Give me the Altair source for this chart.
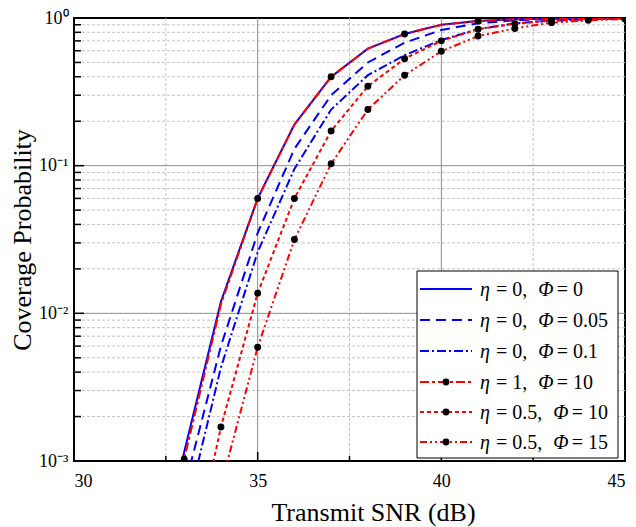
import altair as alt
import pandas as pd

# ---------------- data ----------------
snr_db = [32, 33, 34, 35, 36, 37, 38, 39, 40, 41, 42, 43, 44, 45]

pc_eta0_phi0 = [1.0e-4, 1.15e-3, 0.012, 0.060, 0.19, 0.40, 0.62, 0.78, 0.90, 0.955, 0.98, 0.99, 0.995, 0.998]
pc_eta0_phi005 = [5.0e-5, 6.5e-4, 0.0060, 0.035, 0.13, 0.30, 0.50, 0.68, 0.83, 0.92, 0.965, 0.985, 0.993, 0.997]
pc_eta0_phi01 = [2.0e-5, 4.0e-4, 0.0043, 0.026, 0.095, 0.24, 0.41, 0.56, 0.71, 0.84, 0.92, 0.96, 0.98, 0.993]
pc_eta1_phi10 = [1.0e-4, 1.03e-3, 0.0115, 0.060, 0.19, 0.40, 0.62, 0.78, 0.90, 0.955, 0.98, 0.99, 0.995, 0.998]
pc_eta05_phi10 = [1.0e-5, 1.2e-4, 0.0017, 0.0137, 0.060, 0.172, 0.345, 0.53, 0.70, 0.84, 0.915, 0.96, 0.98, 0.99]
pc_eta05_phi15 = [1.0e-6, 1.0e-5, 6.8e-4, 0.0059, 0.0316, 0.103, 0.24, 0.41, 0.595, 0.755, 0.85, 0.93, 0.965, 0.985]

marker_snr_eta1_phi10 = [33, 35, 37, 39, 41, 43, 45]
marker_snr_eta05_phi10 = [34, 35, 36, 37, 38, 39, 40, 41, 42, 43, 44, 45]
marker_snr_eta05_phi15 = [35, 36, 37, 38, 39, 40, 41, 42, 43, 44, 45]

# legend labels: eta value and Phi value of each curve
legend_eta = ["0", "0", "0", "1", "0.5", "0.5"]
legend_phi = ["0", "0.05", "0.1", "10", "10", "15"]

series_values = [pc_eta0_phi0, pc_eta0_phi005, pc_eta0_phi01,
                 pc_eta1_phi10, pc_eta05_phi10, pc_eta05_phi15]
series_markers = [[], [], [], marker_snr_eta1_phi10, marker_snr_eta05_phi10, marker_snr_eta05_phi15]

x_major = [30, 35, 40, 45]
x_minor = [32.5, 37.5, 42.5]
y_major = [0.001, 0.01, 0.1, 1.0]
y_minor = [0.002, 0.003, 0.004, 0.005, 0.006, 0.007, 0.008, 0.009,
           0.02, 0.03, 0.04, 0.05, 0.06, 0.07, 0.08, 0.09,
           0.2, 0.3, 0.4, 0.5, 0.6, 0.7, 0.8, 0.9]

# ---------------- styles ----------------
series_colors = ["#0000FF", "#0000FF", "#0000FF", "#FF0000", "#FF0000", "#FF0000"]
series_dashes = [[1, 0], [10, 6], [9, 3, 2, 3], [9, 3, 3, 3], [4, 3], [7, 3, 2, 3, 2, 3]]

W, H = 551, 443
TOP = 18  # page y of the plot's top edge
FONT = "Liberation Serif"

xs = alt.Scale(domain=[30, 45], nice=False, zero=False)
ys = alt.Scale(type="log", domain=[0.001, 1], nice=False)

xaxis = alt.Axis(values=x_major, title="Transmit SNR (dB)", grid=False, ticks=False,
                 tickSize=0, domain=False, labelPadding=11, format="d",
                 labelFontSize=18, titleFontSize=26, labelFont=FONT, titleFont=FONT,
                 labelColor="black", titleColor="black", titleFontWeight="normal",
                 titleX=299, titleY=59, titleBaseline="alphabetic")
yaxis = alt.Axis(values=y_major, title="Coverage Probability", grid=False, ticks=False,
                 tickSize=0, domain=False, labelPadding=6,
                 labelFontSize=18, titleFontSize=26, labelFont=FONT, titleFont=FONT,
                 labelColor="black", titleColor="black", titleFontWeight="normal",
                 titleX=-52, titleY=H / 2, titleBaseline="middle",
                 labelExpr="datum.value > 0.5 ? '10⁰' : datum.value > 0.05 ? '10⁻¹' : datum.value > 0.005 ? '10⁻²' : '10⁻³'")


def X(field):
    return alt.X(f"{field}:Q", scale=xs, axis=xaxis)


def Y(field):
    return alt.Y(f"{field}:Q", scale=ys, axis=yaxis)


layers = []

# grid
layers.append(alt.Chart(pd.DataFrame({"snr": x_minor})).mark_rule(
    color="#c4c4c4", strokeWidth=1, strokeDash=[3, 2]).encode(x=X("snr")))
layers.append(alt.Chart(pd.DataFrame({"pc": y_minor})).mark_rule(
    color="#c4c4c4", strokeWidth=1, strokeDash=[3, 2]).encode(y=Y("pc")))
layers.append(alt.Chart(pd.DataFrame({"snr": x_major[1:-1]})).mark_rule(
    color="#8c8c8c", strokeWidth=1).encode(x=X("snr")))
layers.append(alt.Chart(pd.DataFrame({"pc": y_major[1:-1]})).mark_rule(
    color="#8c8c8c", strokeWidth=1).encode(y=Y("pc")))

# inward ticks
layers.append(alt.Chart(pd.DataFrame({"snr": x_major})).mark_rule(color="black", strokeWidth=1.5).encode(
    x=X("snr"), y=alt.value(H), y2=alt.value(H - 9)))
layers.append(alt.Chart(pd.DataFrame({"snr": x_minor})).mark_rule(color="black", strokeWidth=1.5).encode(
    x=X("snr"), y=alt.value(H), y2=alt.value(H - 5)))
layers.append(alt.Chart(pd.DataFrame({"pc": y_major})).mark_rule(color="black", strokeWidth=1.5).encode(
    y=Y("pc"), x=alt.value(0), x2=alt.value(10)))
layers.append(alt.Chart(pd.DataFrame({"pc": y_minor})).mark_rule(color="black", strokeWidth=1.5).encode(
    y=Y("pc"), x=alt.value(0), x2=alt.value(7)))

# curves
for vals, col, dash in zip(series_values, series_colors, series_dashes):
    df = pd.DataFrame({"snr": snr_db, "pc": vals})
    layers.append(alt.Chart(df).mark_line(color=col, strokeWidth=2, strokeDash=dash, clip=True).encode(
        x=X("snr"), y=Y("pc")))

# markers
for vals, msnr in zip(series_values, series_markers):
    if not msnr:
        continue
    lookup = dict(zip(snr_db, vals))
    dfm = pd.DataFrame({"snr": msnr, "pc": [lookup[s] for s in msnr]})
    dfm = dfm[dfm["pc"] >= 0.001]
    layers.append(alt.Chart(dfm).mark_point(filled=True, color="black", size=48, opacity=1, clip=True).encode(
        x=X("snr"), y=Y("pc")))

# legend (box, sample lines, markers, labels with italic symbols)
LX0, LX1, LY0, LY1 = 343, 544, 271 - TOP, 458 - TOP
row_y = [y - TOP for y in (289, 320, 351, 382, 412, 442)]
FS = 20
CW = {" ": 0.25, "=": 0.564, ".": 0.25, ",": 0.25}


def text_w(s):
    return sum(CW.get(c, 0.5) for c in s) * FS


def legend_text(txt, x, y, italic):
    return alt.Chart(pd.DataFrame({"t": [txt]})).mark_text(
        align="left", baseline="alphabetic", font=FONT, fontSize=FS, color="black",
        fontStyle="italic" if italic else "normal").encode(
        x=alt.value(x), y=alt.value(y), text="t:N")


layers.append(alt.Chart(pd.DataFrame({"k": [0]})).mark_rect(fill="white", stroke="black", strokeWidth=1).encode(
    x=alt.value(LX0), x2=alt.value(LX1), y=alt.value(LY0), y2=alt.value(LY1)))
for i, (ev, pv, col, dash, msnr) in enumerate(zip(legend_eta, legend_phi, series_colors,
                                                   series_dashes, series_markers)):
    ry = row_y[i]
    d = pd.DataFrame({"k": [i]})
    layers.append(alt.Chart(d).mark_rule(color=col, strokeWidth=2, strokeDash=dash).encode(
        x=alt.value(346), x2=alt.value(398), y=alt.value(ry)))
    if msnr:
        layers.append(alt.Chart(d).mark_point(filled=True, color="black", size=48, opacity=1).encode(
            x=alt.value(372), y=alt.value(ry)))
    tb = ry + 7
    x_eta = 406
    seg_b = "= " + ev + ","
    x_b = x_eta + 0.5 * FS + 0.3 * FS
    x_phi = x_b + text_w(seg_b) + 0.55 * FS
    seg_d = "= " + pv
    x_d = x_phi + 0.62 * FS + 0.3 * FS
    layers.append(legend_text("η", x_eta, tb, True))
    layers.append(legend_text(seg_b, x_b, tb, False))
    layers.append(legend_text("Φ", x_phi, tb, True))
    layers.append(legend_text(seg_d, x_d, tb, False))

chart = alt.layer(*layers).properties(
    width=W, height=H,
    background="white",
    autosize=alt.AutoSizeParams(type="none"),
    padding={"left": 66, "top": TOP - 8, "right": 3, "bottom": 66},
).configure_view(stroke="black", strokeWidth=2)

chart.save("out.html", embed_options={"renderer": "svg", "actions": False})
